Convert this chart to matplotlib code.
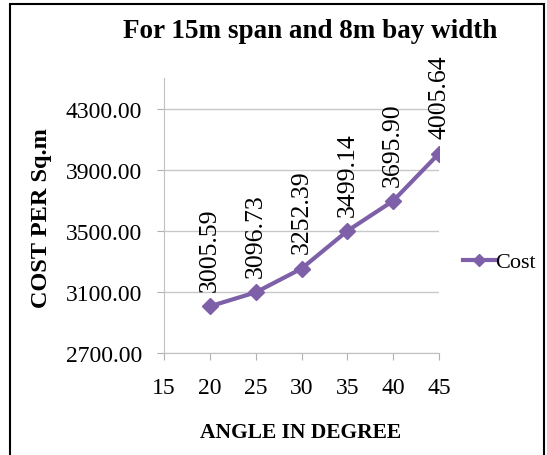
import matplotlib.pyplot as plt
from matplotlib.patches import Rectangle

# Data
angles = [20, 25, 30, 35, 40, 45]
cost = [3005.59, 3096.73, 3252.39, 3499.14, 3695.90, 4005.64]
x_ticks = [15, 20, 25, 30, 35, 40, 45]
y_ticks = [2700, 3100, 3500, 3900, 4300]

plt.rcParams['font.family'] = ['Liberation Serif', 'DejaVu Serif']

W, H = 547, 456
fig = plt.figure(figsize=(W / 100, H / 100), dpi=100)
ax = fig.add_axes([164 / W, 1 - 354 / H, (439 - 164) / W, (354 - 79) / H])

purple = '#7d60a8'
ax.plot(angles, cost, '-D', color=purple, lw=3, ms=8, label='Cost', zorder=3)

for a, c in zip(angles, cost):
    ax.annotate('%.2f' % c, (a, c), xytext=(0, 11), textcoords='offset points',
                rotation=90, ha='center', va='bottom', fontsize=18.5)

ax.set_xlim(15, 45)
ax.set_ylim(2700, 4500)
ax.set_xticks(x_ticks)
ax.set_yticks(y_ticks)
ax.set_yticklabels(['%.2f' % v for v in y_ticks])
ax.tick_params(labelsize=17, color='#b0b0b0', length=5)
ax.tick_params(axis='y', pad=11)
ax.tick_params(axis='x', pad=12)
ax.yaxis.grid(True, color='#c8c8c8', lw=1)
ax.set_axisbelow(True)
for s in ['top', 'right']:
    ax.spines[s].set_visible(False)
for s in ['left', 'bottom']:
    ax.spines[s].set_color('#c0c0c0')

ax.set_xlabel('ANGLE IN DEGREE', fontsize=15.5, fontweight='bold')
ax.set_ylabel('COST PER Sq.m', fontsize=17.5, fontweight='bold')
ax.xaxis.set_label_coords((301 - 164) / 275, -(433 - 354) / 275)
ax.yaxis.set_label_coords(-(164 - 42) / 275, (354 - 218) / 275)
ax.xaxis.label.set_va('center')
ax.yaxis.label.set_va('center')

fig.text(310 / W, 1 - 31 / H, 'For 15m span and 8m bay width', fontsize=19.5,
         fontweight='bold', ha='center', va='center')

ax.legend(loc='center left', bbox_to_anchor=((463 - 164) / 275, (354 - 263) / 275),
          frameon=False, fontsize=16, handlelength=1.45, handletextpad=0.0,
          borderpad=0, borderaxespad=0, markerscale=0.8)

fig.patches.append(Rectangle((10 / W, -0.02), (544 - 10) / W, 1 - 5 / H + 0.02,
                             transform=fig.transFigure, fill=False,
                             edgecolor='black', lw=1.5))

fig.savefig('out.png', dpi=100)
